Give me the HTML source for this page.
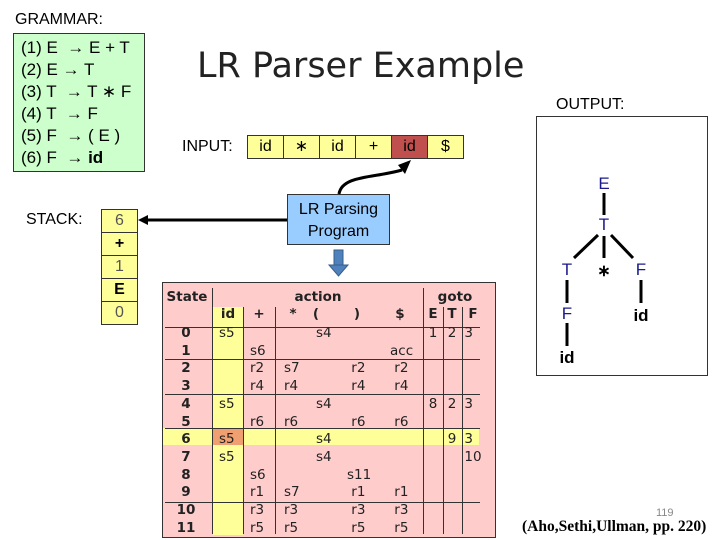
<!DOCTYPE html>
<html><head><meta charset="utf-8"><style>
body{margin:0;width:720px;height:540px;background:#fff;position:relative;overflow:hidden;font-family:"Liberation Sans",sans-serif}
.a{position:absolute;white-space:nowrap}
.c{position:absolute;transform:translateX(-50%);white-space:nowrap}
.t{font-family:"DejaVu Sans","Liberation Sans",sans-serif;font-size:13.5px;color:#222}
.b{font-weight:bold}
.hl{position:absolute;background:#333;height:1px}
.vl{position:absolute;background:#333;width:1px}
.in{position:absolute;top:135px;width:35px;height:22px;border:1px solid #333;background:#ffff99;text-align:center;font-size:16px;line-height:22px}
.st{position:absolute;left:101px;width:35px;height:22px;border:1px solid #333;background:#ffff99;text-align:center;font-size:16px;line-height:22px}
.n{color:#1a1a8c;font-size:17px}
</style></head><body>
<div class="a" style="left:15px;top:11px;font-size:16px">GRAMMAR:</div>
<div class="a" style="left:13px;top:33px;width:130px;height:137px;background:#ccffcc;border:1px solid #333"></div>
<div class="a" style="left:21px;top:37px;font-size:17px;line-height:22px">(1) E &nbsp;→ E + T<br>(2) E → T<br>(3) T &nbsp;→ T ∗ F<br>(4) T &nbsp;→ F<br>(5) F &nbsp;→ ( E )<br>(6) F &nbsp;→ <b>id</b></div>
<div class="a" style="left:197px;top:46px;font-size:35px;font-family:'DejaVu Sans',sans-serif;color:#222">LR Parser Example</div>
<div class="a" style="left:182px;top:138px;font-size:16px">INPUT:</div>
<div class="in" style="left:247px">id</div><div class="in" style="left:283px">∗</div><div class="in" style="left:319px">id</div><div class="in" style="left:355px">+</div><div class="in" style="left:391px;background:#c0504d">id</div><div class="in" style="left:427px">$</div>
<div class="a" style="left:26px;top:211px;font-size:16px">STACK:</div>
<div class="st" style="top:209px;color:#555">6</div><div class="st" style="top:232px;font-weight:bold">+</div><div class="st" style="top:255px;color:#555">1</div><div class="st" style="top:278px;font-weight:bold">E</div><div class="st" style="top:301px;color:#555">0</div>
<div class="a" style="left:287px;top:194px;width:103px;height:51px;background:#99ccff;border:1px solid #333;text-align:center;font-size:16px;line-height:22px;padding-top:4px;box-sizing:border-box">LR Parsing<br>Program</div>
<svg class="a" style="left:0;top:0" width="720" height="540">
<line x1="287" y1="220" x2="146" y2="220" stroke="#000" stroke-width="3"/>
<polygon points="138,220 148,215 148,225" fill="#000"/>
<path d="M339,194 C342,175 375,178 402,170" fill="none" stroke="#000" stroke-width="3"/>
<polygon points="411,160 398,165 405,174" fill="#000"/>
<rect x="334" y="250" width="9" height="16" fill="#4f81bd" stroke="#385d8a"/>
<polygon points="329,265 348,265 338.5,276" fill="#4f81bd" stroke="#385d8a"/>
<g stroke="#000" stroke-width="3">
<line x1="604" y1="193" x2="604" y2="215"/>
<line x1="598" y1="235" x2="574" y2="258"/>
<line x1="604" y1="236" x2="604" y2="258"/>
<line x1="611" y1="235" x2="633" y2="258"/>
<line x1="567" y1="280" x2="567" y2="303"/>
<line x1="641" y1="280" x2="641" y2="303"/>
<line x1="567" y1="323" x2="567" y2="346"/>
</g>
</svg>
<div class="a" style="left:556px;top:96px;font-size:16px">OUTPUT:</div>
<div class="a" style="left:536px;top:116px;width:170px;height:258px;border:1px solid #333"></div>
<div class="c n" style="left:604px;top:174px">E</div>
<div class="c n" style="left:604px;top:215px">T</div>
<div class="c n" style="left:567px;top:260px">T</div>
<div class="c b" style="left:604px;top:261px;font-size:16px">∗</div>
<div class="c n" style="left:641px;top:260px">F</div>
<div class="c n" style="left:567px;top:304px">F</div>
<div class="c b" style="left:641px;top:306px;font-size:17px">id</div>
<div class="c b" style="left:567px;top:348px;font-size:17px">id</div>
<!-- table -->
<div class="a" style="left:162px;top:282px;width:332px;height:254px;background:#ffcccc;border:1px solid #333"></div>
<div class="a" style="left:213px;top:307px;width:30px;height:228px;background:#ffff99"></div>
<div class="a" style="left:163px;top:428px;width:316px;height:17px;background:#ffff99"></div>
<div class="a" style="left:213px;top:428px;width:30px;height:17px;background:#f0a070"></div>
<div class="vl" style="left:212px;top:288px;height:246px"></div>
<div class="vl" style="left:243px;top:307px;height:227px"></div>
<div class="vl" style="left:275px;top:307px;height:227px"></div>
<div class="vl" style="left:423px;top:288px;height:246px"></div>
<div class="vl" style="left:443px;top:307px;height:227px"></div>
<div class="vl" style="left:462px;top:307px;height:227px"></div>
<div class="hl" style="left:165px;top:327px;width:315px"></div>
<div class="hl" style="left:165px;top:359px;width:315px"></div>
<div class="hl" style="left:165px;top:394px;width:315px"></div>
<div class="hl" style="left:165px;top:428px;width:315px"></div>
<div class="hl" style="left:165px;top:502px;width:315px"></div>
<div class="c t b" style="left:187px;top:289px">State</div>
<div class="c t b" style="left:318px;top:289px">action</div>
<div class="c t b" style="left:455px;top:289px">goto</div>
<div class="c t b" style="left:228px;top:306px">id</div><div class="c t b" style="left:259px;top:306px">+</div><div class="c t b" style="left:293px;top:306px">*</div><div class="c t b" style="left:316px;top:306px">(</div><div class="c t b" style="left:357px;top:306px">)</div><div class="c t b" style="left:400px;top:306px">$</div><div class="c t b" style="left:433px;top:306px">E</div><div class="c t b" style="left:452px;top:306px">T</div><div class="c t b" style="left:473px;top:306px">F</div>
<div class="c t b" style="left:186px;top:325px;line-height:17.7px;text-align:center">0<br>1<br>2<br>3<br>4<br>5<br>6<br>7<br>8<br>9<br>10<br>11</div>
<div class="a t" style="left:219px;top:325px;line-height:17.7px">s5<br><br><br><br>s5<br><br>s5<br>s5</div>
<div class="a t" style="left:250px;top:325px;line-height:17.7px"><br>s6<br>r2<br>r4<br><br>r6<br><br><br>s6<br>r1<br>r3<br>r5</div>
<div class="a t" style="left:284px;top:325px;line-height:17.7px"><br><br>s7<br>r4<br><br>r6<br><br><br><br>s7<br>r3<br>r5</div>
<div class="a t" style="left:316px;top:325px;line-height:17.7px">s4<br><br><br><br>s4<br><br>s4<br>s4</div>
<div class="a t" style="left:347px;top:325px;line-height:17.7px"><br><br>&nbsp;r2<br>&nbsp;r4<br><br>&nbsp;r6<br><br><br>s11<br>&nbsp;r1<br>&nbsp;r3<br>&nbsp;r5</div>
<div class="a t" style="left:390px;top:325px;line-height:17.7px"><br>acc<br>&nbsp;r2<br>&nbsp;r4<br><br>&nbsp;r6<br><br><br><br>&nbsp;r1<br>&nbsp;r3<br>&nbsp;r5</div>
<div class="c t" style="left:433px;top:325px;line-height:17.7px">1<br><br><br><br>8</div>
<div class="c t" style="left:452px;top:325px;line-height:17.7px">2<br><br><br><br>2<br><br>9</div>
<div class="c t" style="left:473px;top:325px;line-height:17.7px">3<br><br><br><br>3<br><br>3<br>10</div>
<div class="a" style="left:656px;top:507px;font-size:11px;color:#888">119</div>
<div class="a" style="left:522px;top:518px;font-size:15.5px;font-family:'Liberation Serif',serif;font-weight:bold">(Aho,Sethi,Ullman, pp. 220)</div>
</body></html>
